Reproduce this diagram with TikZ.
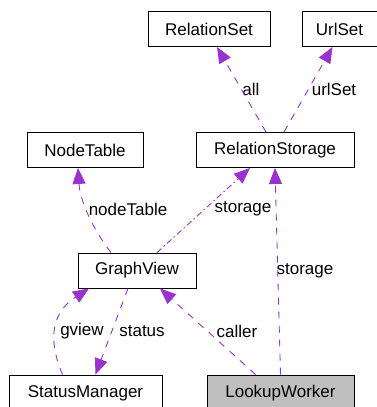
\documentclass[tikz,border=0pt]{standalone}
\usepackage{fontspec}
\setmainfont{Liberation Sans}
\usetikzlibrary{arrows.meta}

\definecolor{edgepurple}{HTML}{9A32CD}
\definecolor{boxgray}{HTML}{BFBFBF}

\begin{document}
\begin{tikzpicture}[x=1pt,y=-1pt,
	cls/.style={draw=black,line width=0.9pt,inner sep=0pt,minimum height=35pt,font=\fontsize{17}{19}\selectfont},
	use/.style={draw=edgepurple,line width=0.9pt,dash pattern=on 7pt off 7pt,-{Triangle[length=16pt,width=13pt,fill=edgepurple]}},
	lbl/.style={inner sep=1pt,font=\fontsize{17}{19}\selectfont}]
	
	\useasboundingbox (0,0) rectangle (377,407);
	
	\node[cls,minimum width=122pt] (rset) at (209,29) {RelationSet};
	
	\node[cls,minimum width=75pt] (url) at (339.5,29) {UrlSet};
	
	\node[cls,minimum width=116pt] (nt) at (85,150) {NodeTable};
	
	\node[cls,minimum width=158pt] (rs) at (275,150) {RelationStorage};
	
	\node[cls,minimum width=118pt] (gv) at (137,270.5) {GraphView};
	
	\node[cls,minimum width=153pt,minimum height=36pt] (sm) at (85.5,393) {StatusManager};
	
	\node[cls,minimum width=147pt,minimum height=36pt,fill=boxgray] (lw) at (280.5,393) {LookupWorker};
	
	\node[lbl] (all) at (251,89) {all};
	\node[lbl] (us) at (334,89) {urlSet};
	\node[lbl] (ntl) at (128,209) {nodeTable};
	\node[lbl] (st1) at (243,209) {storage};
	\node[lbl] (st2) at (305,271) {storage};
	\node[lbl] (gvl) at (82,331) {gview};
	\node[lbl] (stl) at (142,331) {status};
	\node[lbl] (cl) at (237,331) {caller};
	
	\draw[use] ([xshift=-9pt]rs.north) -- ([xshift=8pt]rset.south);
	\draw[use] ([xshift=9pt]rs.north) -- ([xshift=-7pt]url.south);
	\draw[use] ([xshift=-26pt]gv.north) .. controls (92,228) and (80,200) .. ([xshift=-7pt]nt.south);
	\draw[use,dash pattern=on 6pt off 3pt on 1.5pt off 3pt] ([xshift=20pt]gv.north) -- ([xshift=-25pt]rs.south);
	\draw[use] (lw.north) -- (rs.south);
	\draw[use] ([xshift=-9pt]gv.south) -- ([xshift=10pt]sm.north);
	\draw[use] ([xshift=-23pt]sm.north) .. controls (50,345) and (48,315) .. ([xshift=-48pt]gv.south);
	\draw[use] ([xshift=-25pt]lw.north) -- ([xshift=23pt]gv.south);
	
\end{tikzpicture}
\end{document}
